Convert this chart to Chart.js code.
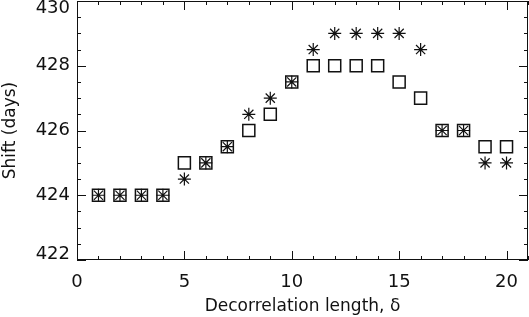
<!DOCTYPE html>
<html>
<head>
<meta charset="utf-8">
<script src="https://cdn.jsdelivr.net/npm/chart.js@4.4.1/dist/chart.umd.min.js"></script>
<style>
  html, body { margin: 0; padding: 0; background: #fff; }
  #wrap { width: 529px; height: 317px; }
</style>
</head>
<body>
<div id="wrap"><canvas id="grafico"></canvas></div>
<script>
// datos
const longitudes = [1, 2, 3, 4, 5, 6, 7, 8, 9, 10, 11, 12, 13, 14, 15, 16, 17, 18, 19, 20];
const cuadrados = [424, 424, 424, 424, 425, 425, 425.5, 426, 426.5, 427.5, 428, 428, 428, 428, 427.5, 427, 426, 426, 425.5, 425.5];
const asteriscos = [424, 424, 424, 424, 424.5, 425, 425.5, 426.5, 427, 427.5, 428.5, 429, 429, 429, 429, 428.5, 426, 426, 425, 425];
const ticksX = [0, 5, 10, 15, 20];
const ticksY = [422, 424, 426, 428, 430];

const fuente = "'DejaVu Sans', sans-serif";
const tinta = "#111";

// marcas hacia dentro en los cuatro lados
const marcasDentro = {
  id: "marcasDentro",
  beforeDraw(chart) {
    // las etiquetas de los extremos del eje y quedan dentro del area
    const a = chart.chartArea;
    const items = chart.scales.y.getLabelItems();
    items.forEach((it) => {
      const t = it.options.translation;
      if (t[1] < a.top + 8) t[1] = a.top + 7;
      if (t[1] > a.bottom - 5) t[1] = a.bottom - 6;
    });
  },
  afterDraw(chart) {
    const ctx = chart.ctx;
    const a = chart.chartArea;
    const sx = chart.scales.x;
    const sy = chart.scales.y;
    ctx.save();
    ctx.strokeStyle = tinta;
    ctx.lineWidth = 1;
    ctx.beginPath();
    for (let v = sx.min; v <= sx.max; v += 1) {
      const px = Math.round(sx.getPixelForValue(v)) + 0.5;
      const largo = v % 5 === 0 ? 9 : 4;
      ctx.moveTo(px, a.bottom); ctx.lineTo(px, a.bottom - largo);
      ctx.moveTo(px, a.top); ctx.lineTo(px, a.top + largo);
    }
    for (let v = sy.min; v <= sy.max; v += 0.5) {
      const py = Math.round(sy.getPixelForValue(v)) + 0.5;
      const largo = v % 2 === 0 ? 9 : 4;
      ctx.moveTo(a.left, py); ctx.lineTo(a.left + largo, py);
      ctx.moveTo(a.right, py); ctx.lineTo(a.right - largo, py);
    }
    ctx.stroke();
    ctx.strokeRect(a.left + 0.5, a.top + 0.5, a.right - a.left - 1, a.bottom - a.top - 1);
    ctx.restore();
  }
};

const datosCuadrados = longitudes.map((x, i) => ({ x: x, y: cuadrados[i] }));
const datosAsteriscos = longitudes.map((x, i) => ({ x: x, y: asteriscos[i] }));

new Chart(document.getElementById("grafico"), {
  type: "scatter",
  data: {
    datasets: [
      {
        label: "cuadrados",
        data: datosCuadrados,
        pointStyle: "rect",
        pointRadius: 8.5,
        pointBorderWidth: 1.5,
        pointBorderColor: tinta,
        pointBackgroundColor: "rgba(0,0,0,0)"
      },
      {
        label: "asteriscos",
        data: datosAsteriscos,
        pointStyle: "star",
        pointRadius: 6.5,
        pointBorderWidth: 1.2,
        pointBorderColor: tinta,
        pointBackgroundColor: "rgba(0,0,0,0)"
      }
    ]
  },
  options: {
    responsive: true,
    maintainAspectRatio: false,
    animation: false,
    events: [],
    layout: { autoPadding: false, padding: { top: 1, right: 1, left: 0, bottom: 0 } },
    plugins: { legend: { display: false }, tooltip: { enabled: false } },
    scales: {
      x: {
        type: "linear",
        min: 0,
        max: 21,
        afterFit(scale) {
          scale.height = 57;
          scale.paddingLeft = 0;
          scale.paddingRight = 0;
        },
        afterBuildTicks(scale) { scale.ticks = ticksX.map(v => ({ value: v })); },
        grid: { display: false, drawTicks: false },
        border: { display: false },
        ticks: { padding: 12, color: tinta, font: { family: fuente, size: 18 } },
        title: {
          display: true,
          text: "Decorrelation length, δ",
          color: tinta,
          padding: { top: 2, bottom: 0 },
          font: { family: fuente, size: 17 }
        }
      },
      y: {
        type: "linear",
        min: 422,
        max: 430,
        afterFit(scale) {
          scale.width = 77;
          scale.paddingTop = 0;
          scale.paddingBottom = 0;
        },
        afterBuildTicks(scale) { scale.ticks = ticksY.map(v => ({ value: v })); },
        grid: { display: false, drawTicks: false },
        border: { display: false },
        ticks: { padding: 7, color: tinta, font: { family: fuente, size: 18 } },
        title: {
          display: true,
          text: "Shift (days)",
          color: tinta,
          padding: { top: 0, bottom: 4 },
          font: { family: fuente, size: 17 }
        }
      }
    }
  },
  plugins: [marcasDentro]
});
</script>
</body>
</html>
